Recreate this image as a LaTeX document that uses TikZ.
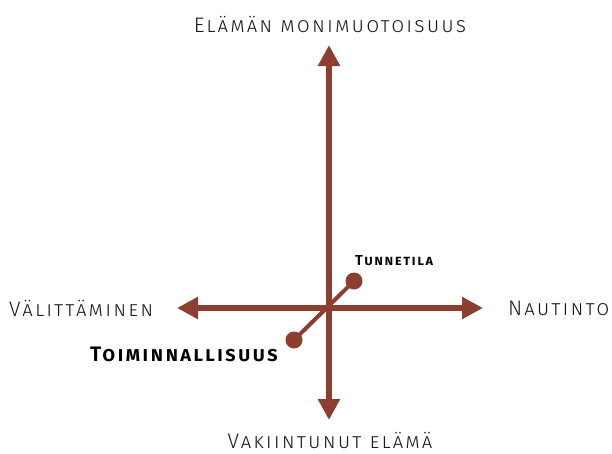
\documentclass[tikz,border=0pt]{standalone}
\usepackage{fontspec}
\setmainfont{Fira Sans Light}[BoldFont={Fira Sans SemiBold},LetterSpace=10]
\usetikzlibrary{arrows.meta}
\definecolor{axisred}{RGB}{142,62,48}
\begin{document}
\begin{tikzpicture}[x=1pt,y=-1pt,
  axis/.style={draw=axisred,line width=5.5pt,-{Triangle[length=21pt,width=21pt]}},
  diag/.style={draw=axisred,line width=4pt},
  dot/.style={circle,fill=axisred,inner sep=0pt,minimum size=17pt},
  lab/.style={font=\fontsize{21}{24}\selectfont\scshape,text=black!90,inner sep=0pt},
  blab/.style={font=\fontsize{21}{24}\selectfont\bfseries\scshape,text=black,inner sep=0pt},
  slab/.style={font=\fontsize{14.5}{17}\selectfont\bfseries\scshape,text=black,inner sep=0pt}]
\useasboundingbox (0,0) rectangle (612,453);
\coordinate (c) at (329,308);
\coordinate (top) at (329,45);
\coordinate (bot) at (329,420);
\coordinate (lft) at (177,308);
\coordinate (rgt) at (483,308);
\node[dot] (d1) at (294,340) {};
\node[dot] (d2) at (354,281) {};
\draw[diag] (d1.center) -- (d2.center);
\draw[axis] (c) -- (top);
\draw[axis] (c) -- (bot);
\draw[axis] (c) -- (lft);
\draw[axis] (c) -- (rgt);
\node[lab] (tl) at (330,24) {Elämän monimuotoisuus};
\node[lab] (bl) at (330,440) {Vakiintunut elämä};
\node[lab,anchor=west] (ll) at (9,308) {Välittäminen};
\node[lab,anchor=west] (rl) at (508,308) {Nautinto};
\node[blab,anchor=east] (tm) at (278,354) {Toiminnallisuus};
\node[slab,anchor=west] (tn) at (355,261) {Tunnetila};
\end{tikzpicture}
\end{document}
